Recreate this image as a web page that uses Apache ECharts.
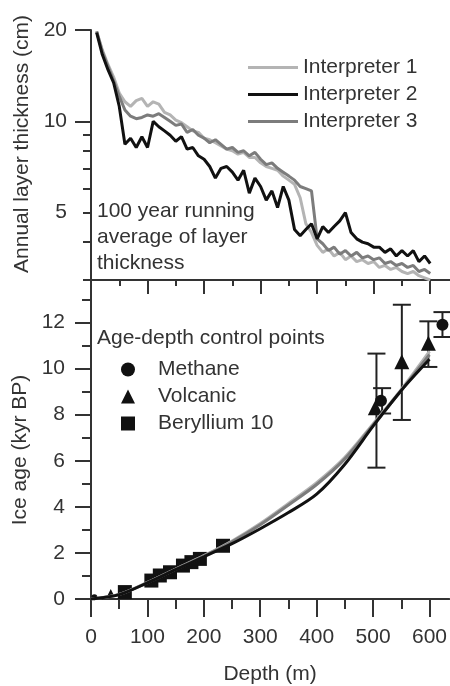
<!DOCTYPE html>
<html>
<head>
<meta charset="utf-8">
<title>Layer thickness and ice age</title>
<script src="https://cdn.jsdelivr.net/npm/echarts@6/dist/echarts.min.js"></script>
<style>
  html, body { margin: 0; padding: 0; background: #fff; }
  #chart { width: 450px; height: 686px; }
</style>
</head>
<body>
<div id="chart"></div>
<script>
// top panel: 100 yr running average of layer thickness (cm) vs depth (m)
var depths = [10, 20, 30, 40, 50, 60, 70, 80, 90, 100,
  110, 120, 130, 140, 150, 160, 170, 180, 190, 200,
  210, 220, 230, 240, 250, 260, 270, 280, 290, 300,
  310, 320, 330, 340, 350, 360, 370, 380, 390, 400,
  410, 420, 430, 440, 450, 460, 470, 480, 490, 500,
  510, 520, 530, 540, 550, 560, 570, 580, 590, 600];
var interp1 = [19.8, 17.2, 15.4, 14.0, 12.4, 11.6, 11.2, 11.7, 11.9, 11.2,
  11.6, 11.4, 10.7, 10.5, 10.1, 9.9, 9.6, 9.3, 9.2, 8.8,
  8.7, 8.5, 8.3, 8.1, 8.0, 7.8, 7.9, 7.6, 7.6, 7.3,
  7.1, 7.0, 6.9, 6.6, 6.4, 6.2, 5.6, 4.6, 4.3, 3.9,
  3.7, 3.8, 3.6, 3.7, 3.5, 3.6, 3.45, 3.5, 3.4, 3.45,
  3.3, 3.35, 3.25, 3.3, 3.2, 3.15, 3.2, 3.1, 3.05, 3.0];
var interp2 = [19.6, 16.6, 14.8, 13.4, 11.2, 8.4, 8.8, 8.2, 8.9, 8.2,
  10.0, 9.6, 9.3, 9.0, 8.6, 8.9, 8.1, 8.2, 7.7, 7.5,
  7.1, 6.5, 7.0, 7.1, 6.8, 6.4, 6.9, 5.8, 6.5, 6.1,
  5.5, 5.9, 5.2, 6.1, 5.5, 4.4, 4.2, 4.4, 4.6, 4.1,
  4.5, 4.3, 4.5, 4.7, 5.0, 4.3, 4.1, 4.0, 3.95, 3.85,
  3.85, 3.7, 3.8, 3.6, 3.75, 3.6, 3.75, 3.45, 3.6, 3.4];
var interp3 = [19.8, 17.0, 15.2, 13.6, 12.1, 10.9, 10.4, 10.2, 10.3, 10.5,
  10.4, 10.6, 10.3, 10.0, 9.7, 9.8, 9.2, 9.4, 9.0, 8.8,
  8.5, 8.7, 8.4, 8.1, 8.2, 7.9, 8.0, 7.7, 7.9, 7.5,
  7.2, 7.3, 7.0, 6.8, 6.6, 6.4, 6.1, 6.0, 5.9, 4.1,
  3.95, 3.75, 3.85, 3.65, 3.75, 3.6, 3.7, 3.55, 3.6, 3.5,
  3.55, 3.4, 3.45, 3.35, 3.4, 3.3, 3.35, 3.2, 3.25, 3.15];

// bottom panel: age-depth model (kyr BP)
var curveDepths = [0, 50, 100, 150, 200, 250, 300, 350, 400, 450, 500, 550, 600];
var age1 = [0, 0.2, 0.72, 1.3, 1.88, 2.52, 3.28, 4.15, 5.05, 6.15, 7.6, 9.1, 10.75];
var age2 = [0, 0.19, 0.7, 1.27, 1.83, 2.4, 3.05, 3.75, 4.55, 5.85, 7.5, 9.05, 10.4];
var age3 = [0, 0.2, 0.71, 1.29, 1.86, 2.48, 3.22, 4.08, 4.97, 6.08, 7.55, 9.05, 10.6];

// control points [depth, age]
var methane = [[514, 8.6], [623, 11.9]];
var methaneSmall = [[6, 0.08]];
var volcanic = [[504, 8.3], [551, 10.3], [598, 11.1]];
var volcanicSmall = [[35, 0.28]];
var beryllium = [[60, 0.3], [107, 0.8], [122, 1.02], [140, 1.16], [163, 1.45],
  [178, 1.6], [193, 1.74], [234, 2.31]];
// [depth, low, high]
var errorBars = [[506, 5.7, 10.65], [516, 8.05, 9.15], [551, 7.77, 12.77],
  [598, 10.07, 12.05], [623, 11.37, 12.45]];

// tick labels
var thickLabels = [5, 10, 20];
var thickLongTicks = [10, 20];
var thickShortTicks = [3, 4, 5, 6, 7, 8, 9];
var depthTicks = [0, 100, 200, 300, 400, 500, 600];
var depthMinorTicks = [50, 150, 250, 350, 450, 550];
var ageTicks = [0, 2, 4, 6, 8, 10, 12];
var ageMinorTicks = [1, 3, 5, 7, 9, 11, 13];

var FONT = 'Liberation Sans, Arial, Helvetica, sans-serif';
var INK = '#333';
var C1 = '#b4b4b4', C2 = '#111', C3 = '#7c7c7c';

function lg(v) { return Math.log10(v); }
function pairs(xs, ys, f) {
  return xs.map(function (x, i) { return [x, f ? f(ys[i]) : ys[i]]; });
}

var axisLine = { show: true, onZero: false, lineStyle: { color: INK, width: 2 } };
var noLine = { show: false };
var tickStyle = { color: INK, width: 2 };
var labelStyle = { color: INK, fontSize: 21, fontFamily: FONT };
var nameStyle = { color: INK, fontSize: 21, fontFamily: FONT };

function depthAxis(grid, ticks, len, withLine, withLabels) {
  return {
    type: 'value', gridIndex: grid, position: 'bottom', min: 0, max: 635,
    axisLine: withLine ? axisLine : noLine,
    axisTick: { show: true, customValues: ticks, length: len, lineStyle: tickStyle },
    axisLabel: withLabels ? Object.assign({ customValues: ticks, margin: 28 }, labelStyle) : { show: false },
    splitLine: { show: false }
  };
}

var chart = echarts.init(document.getElementById('chart'), null, { renderer: 'canvas' });

var lineSeries = function (name, data, color, xi, yi, smooth) {
  return {
    name: name, type: 'line', xAxisIndex: xi, yAxisIndex: yi, data: data,
    showSymbol: false, symbol: 'none', smooth: smooth || false,
    lineStyle: { color: color, width: 3 }, itemStyle: { color: color }
  };
};
var dot = { color: C2, opacity: 1 };

var option = {
  animation: false,
  backgroundColor: '#fff',
  grid: [
    { left: 91, right: 0, top: 30, height: 250 },
    { left: 91, right: 0, top: 281, height: 321 }
  ],
  xAxis: [
    depthAxis(0, depthTicks, 14, true, false),
    depthAxis(0, depthMinorTicks, 6, false, false),
    Object.assign(depthAxis(1, depthTicks, 18, true, true), {
      name: 'Depth (m)', nameLocation: 'middle', nameGap: 65, nameTextStyle: nameStyle
    }),
    depthAxis(1, depthMinorTicks, 10, false, false)
  ],
  yAxis: [
    {
      type: 'value', gridIndex: 0, position: 'left', min: lg(3), max: lg(20),
      axisLine: axisLine,
      axisTick: { show: true, customValues: thickShortTicks.map(lg), length: 8, lineStyle: tickStyle },
      axisLabel: { show: false }, splitLine: { show: false }
    },
    {
      type: 'value', gridIndex: 0, position: 'left', min: lg(3), max: lg(20),
      axisLine: noLine,
      axisTick: { show: true, customValues: thickLongTicks.map(lg), length: 16, lineStyle: tickStyle },
      axisLabel: Object.assign({
        customValues: thickLabels.map(lg), margin: 24,
        formatter: function (v) { return String(Math.round(Math.pow(10, v))); }
      }, labelStyle),
      splitLine: { show: false },
      name: 'Annual layer thickness (cm)', nameLocation: 'middle', nameGap: 58,
      nameTextStyle: Object.assign({ padding: [0, 0, 0, 22] }, nameStyle)
    },
    {
      type: 'value', gridIndex: 1, position: 'left', min: 0, max: 13.8,
      axisLine: axisLine,
      axisTick: { show: true, customValues: ageTicks, length: 16, lineStyle: tickStyle },
      axisLabel: Object.assign({ customValues: ageTicks, margin: 26 }, labelStyle),
      splitLine: { show: false },
      name: 'Ice age (kyr BP)', nameLocation: 'middle', nameGap: 53,
      nameTextStyle: Object.assign({ padding: [0, 20, 0, 0] }, nameStyle)
    },
    {
      type: 'value', gridIndex: 1, position: 'left', min: 0, max: 13.8,
      axisLine: noLine,
      axisTick: { show: true, customValues: ageMinorTicks, length: 9, lineStyle: tickStyle },
      axisLabel: { show: false }, splitLine: { show: false }
    }
  ],
  legend: [
    {
      data: ['Interpreter 1', 'Interpreter 2', 'Interpreter 3'],
      icon: 'rect', orient: 'vertical', left: 243, top: 52,
      itemWidth: 50, itemHeight: 3, itemGap: 6,
      textStyle: { color: INK, fontSize: 21, fontFamily: FONT }, selectedMode: false
    },
    {
      data: [
        { name: 'Methane', icon: 'circle' },
        { name: 'Volcanic', icon: 'triangle' },
        { name: 'Beryllium 10', icon: 'rect' }
      ],
      orient: 'vertical', left: 116, top: 354, itemWidth: 14, itemHeight: 14, itemGap: 6,
      itemStyle: { opacity: 1 },
      textStyle: { color: INK, fontSize: 21, fontFamily: FONT, padding: [0, 0, 0, 18] },
      selectedMode: false
    }
  ],
  graphic: [
    {
      type: 'text', left: 97, top: 198,
      style: {
        text: '100 year running\naverage of layer\nthickness',
        fill: INK, font: '21px ' + FONT, lineHeight: 26
      }
    },
    {
      type: 'text', left: 97, top: 328,
      style: { text: 'Age-depth control points', fill: INK, font: '21px ' + FONT }
    }
  ],
  series: [
    lineSeries('Interpreter 1', pairs(depths, interp1, lg), C1, 0, 0),
    lineSeries('Interpreter 3', pairs(depths, interp3, lg), C3, 0, 0),
    lineSeries('Interpreter 2', pairs(depths, interp2, lg), C2, 0, 0),
    lineSeries('Interpreter 1', pairs(curveDepths, age1), C1, 2, 2, 0.3),
    lineSeries('Interpreter 3', pairs(curveDepths, age3), C3, 2, 2, 0.3),
    lineSeries('Interpreter 2', pairs(curveDepths, age2), C2, 2, 2, 0.3),
    {
      name: 'Error', type: 'custom', xAxisIndex: 2, yAxisIndex: 2, data: errorBars,
      encode: { x: 0, y: [1, 2] },
      renderItem: function (params, api) {
        var x = api.value(0);
        var lo = api.coord([x, api.value(1)]);
        var hi = api.coord([x, api.value(2)]);
        var w = 9;
        var st = { stroke: '#222', lineWidth: 2 };
        return {
          type: 'group', children: [
            { type: 'line', shape: { x1: lo[0], y1: lo[1], x2: hi[0], y2: hi[1] }, style: st },
            { type: 'line', shape: { x1: lo[0] - w, y1: lo[1], x2: lo[0] + w, y2: lo[1] }, style: st },
            { type: 'line', shape: { x1: hi[0] - w, y1: hi[1], x2: hi[0] + w, y2: hi[1] }, style: st }
          ]
        };
      }
    },
    {
      name: 'Methane', type: 'scatter', xAxisIndex: 2, yAxisIndex: 2, data: methane,
      symbol: 'circle', symbolSize: 12, itemStyle: dot
    },
    {
      name: 'Methane small', type: 'scatter', xAxisIndex: 2, yAxisIndex: 2, data: methaneSmall,
      symbol: 'circle', symbolSize: 6, itemStyle: dot
    },
    {
      name: 'Volcanic', type: 'scatter', xAxisIndex: 2, yAxisIndex: 2, data: volcanic,
      symbol: 'triangle', symbolSize: 15, itemStyle: dot
    },
    {
      name: 'Volcanic small', type: 'scatter', xAxisIndex: 2, yAxisIndex: 2, data: volcanicSmall,
      symbol: 'triangle', symbolSize: 7, itemStyle: dot
    },
    {
      name: 'Beryllium 10', type: 'scatter', xAxisIndex: 2, yAxisIndex: 2, data: beryllium,
      symbol: 'rect', symbolSize: 14, itemStyle: dot
    }
  ]
};

chart.setOption(option);
</script>
</body>
</html>
